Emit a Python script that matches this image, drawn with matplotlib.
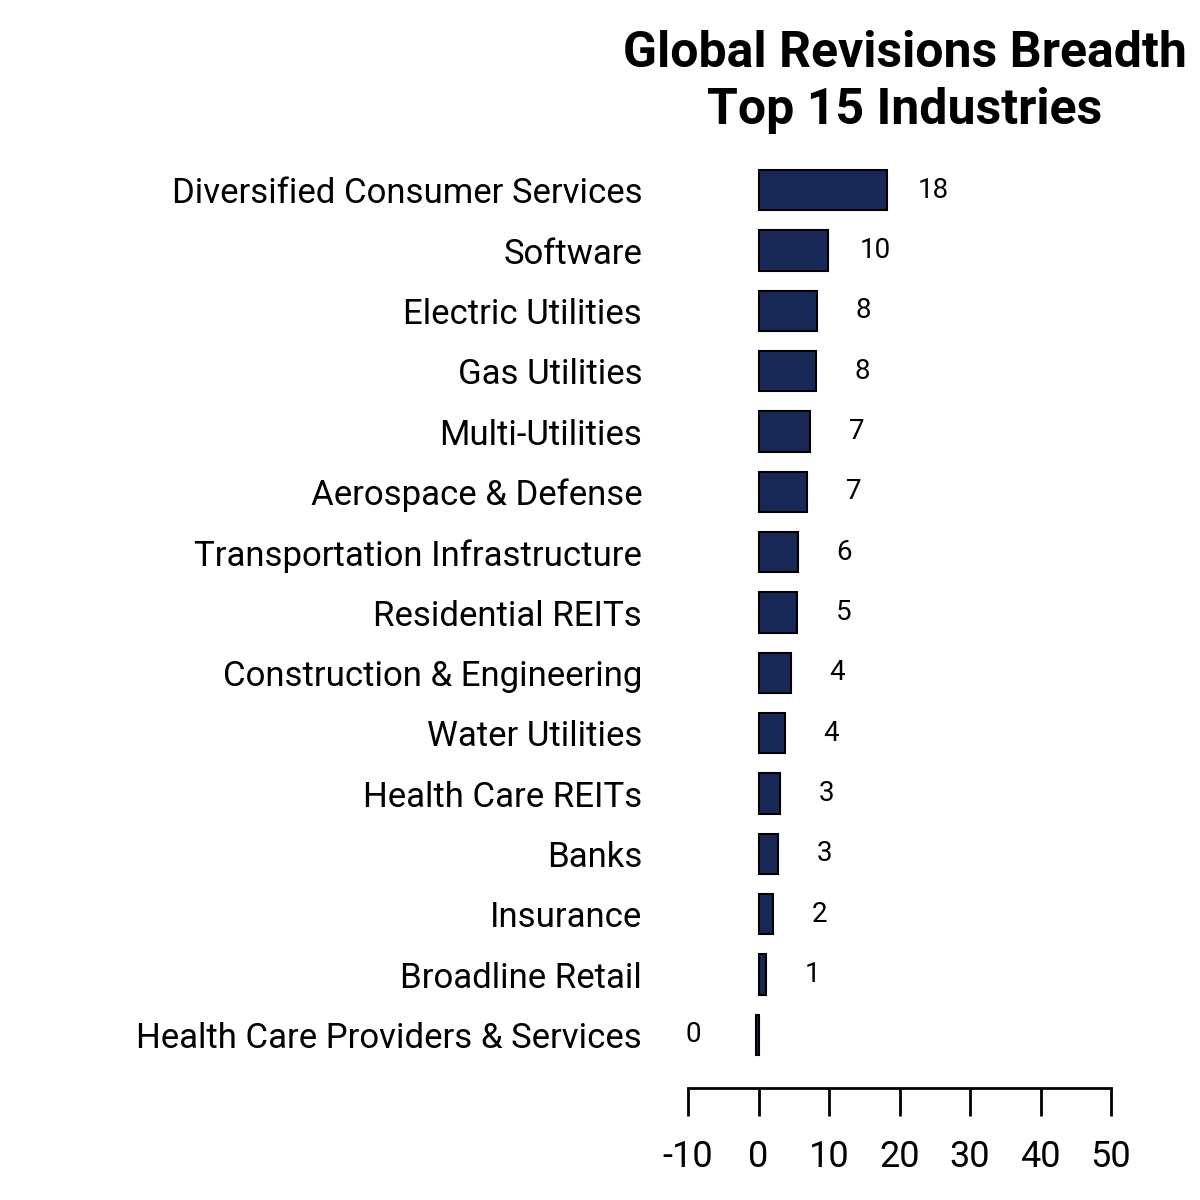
import matplotlib
matplotlib.use("Agg")
import matplotlib.pyplot as plt
from matplotlib import font_manager

categories = ["Diversified Consumer Services", "Software", "Electric Utilities", "Gas Utilities",
              "Multi-Utilities", "Aerospace & Defense", "Transportation Infrastructure",
              "Residential REITs", "Construction & Engineering", "Water Utilities",
              "Health Care REITs", "Banks", "Insurance", "Broadline Retail",
              "Health Care Providers & Services"]
values = [18.2, 9.9, 8.3, 8.1, 7.3, 6.9, 5.6, 5.5, 4.6, 3.7, 3.0, 2.7, 2.1, 1.1, -0.3]
labels = ["18", "10", "8", "8", "7", "7", "6", "5", "4", "4", "3", "3", "2", "1", "0"]
xticks = [-10, 0, 10, 20, 30, 40, 50]

names = {f.name for f in font_manager.fontManager.ttflist}
fam = "Liberation Sans Narrow" if "Liberation Sans Narrow" in names else "Roboto"
plt.rcParams['font.family'] = [fam, 'DejaVu Sans']

fig = plt.figure(figsize=(12, 12), dpi=100)
ax = fig.add_axes([688/1200, 1-1088/1200, (1111-688)/1200, (1088-154)/1200])
y = list(range(len(categories)))
ax.barh(y, values, height=0.67, color="#172856", edgecolor="black", linewidth=1.5)
ax.set_xlim(-10, 50)
ax.set_ylim(14.88, -0.6)
ax.set_yticks(y)
ax.set_yticklabels(categories, fontsize=25)
ax.tick_params(axis='y', length=0, pad=33)
ax.set_xticks(xticks)
ax.set_xticklabels([str(t) for t in xticks], fontsize=26)
ax.tick_params(axis='x', length=20, width=2, direction='out', pad=17)
for s in ['top', 'right', 'left']:
    ax.spines[s].set_visible(False)
ax.spines['bottom'].set_linewidth(2)
ax.spines['bottom'].set_bounds(-10, 50)
for yi, v, lab in zip(y, values, labels):
    x = v + 6.6 if v >= 0 else v - 9.0
    ax.text(x, yi, lab, ha='center', va='center', fontsize=20, clip_on=False)
fig.text(905/1200, 1-82/1200, "Global Revisions Breadth\nTop 15 Industries", ha='center', va='center',
         fontsize=36, fontweight='bold', linespacing=1.25)
fig.savefig("out.png", dpi=100)
